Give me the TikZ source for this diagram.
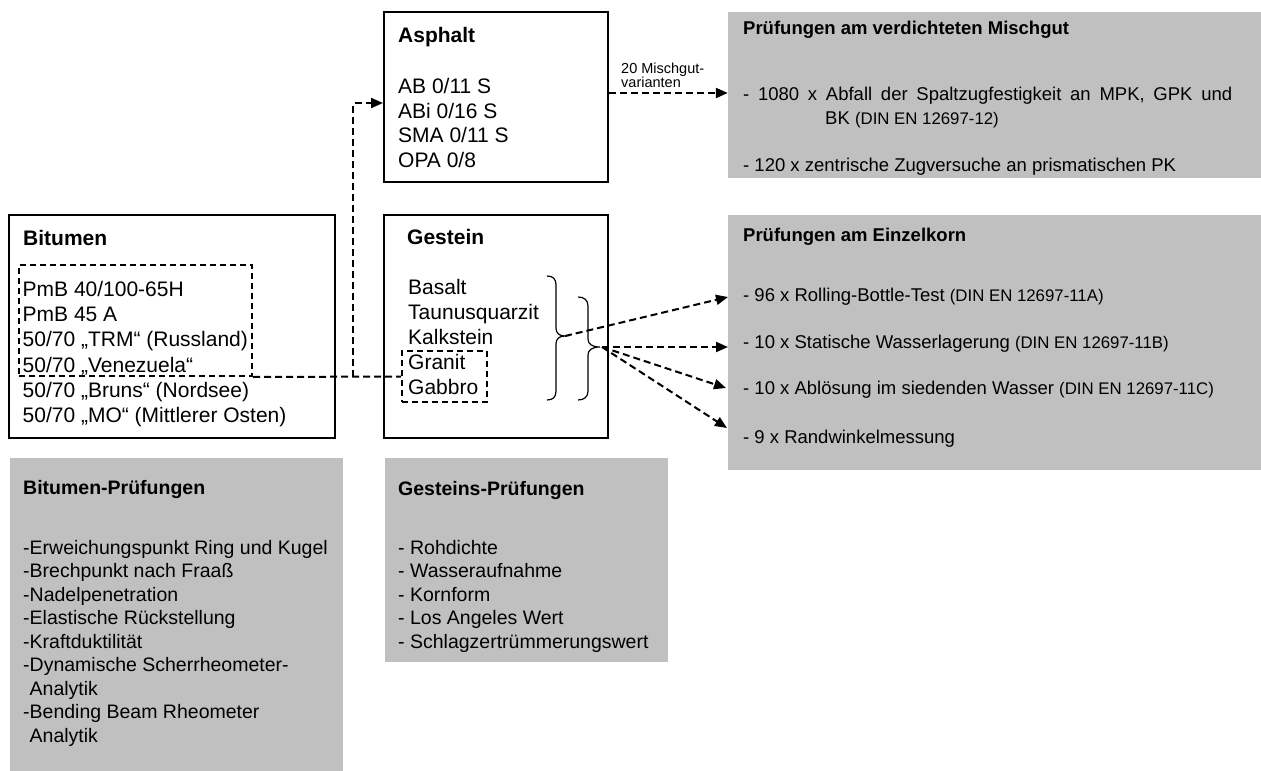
\documentclass[tikz,border=0pt]{standalone}
\usepackage{fontspec}
\setmainfont{Liberation Sans}
\usetikzlibrary{arrows.meta}
\definecolor{boxgray}{RGB}{192,192,192}
\begin{document}
\begin{tikzpicture}[x=1pt,y=-1pt,
  frame/.style={draw=black, line width=2pt, inner sep=0pt},
  selbox/.style={draw=black, line width=2pt, dash pattern=on 6pt off 4pt, inner sep=0pt},
  graybox/.style={fill=boxgray, draw=none, inner sep=0pt},
  big/.style={anchor=base west, inner sep=0pt, font=\fontsize{21}{25}\selectfont},
  bigb/.style={anchor=base west, inner sep=0pt, font=\fontsize{21}{25}\selectfont\bfseries},
  mid/.style={anchor=base west, inner sep=0pt, font=\fontsize{19.5}{23}\selectfont},
  midb/.style={anchor=base west, inner sep=0pt, font=\fontsize{19.5}{23}\selectfont\bfseries},
  sml/.style={anchor=base west, inner sep=0pt, font=\fontsize{18.5}{22}\selectfont},
  smlb/.style={anchor=base west, inner sep=0pt, font=\fontsize{18.5}{22}\selectfont\bfseries},
  tiny/.style={anchor=base west, inner sep=0pt, font=\fontsize{14.5}{12}\selectfont},
  conn/.style={line width=2pt, dash pattern=on 7pt off 4pt},
  arr/.style={conn, -{Triangle[length=12pt,width=10pt]}},
  bracestyle/.style={line width=1.2pt}
]
\newcommand{\din}[1]{{\fontsize{16.8}{19}\selectfont #1}}
\useasboundingbox (0,0) rectangle (1261,771);

% gray boxes
\node[graybox, minimum width=533pt, minimum height=166pt] (mischbox) at (994.5,95) {};
\node[graybox, minimum width=533pt, minimum height=255pt] (einzbox) at (994.5,342.5) {};
\node[graybox, minimum width=333pt, minimum height=313pt] (bitpr) at (176.5,614.5) {};
\node[graybox, minimum width=283pt, minimum height=204pt] (gespr) at (526.5,560) {};

% framed boxes
\node[frame, minimum width=224pt, minimum height=170pt] (asphalt) at (496,97) {};
\node[frame, minimum width=326pt, minimum height=223pt] (bitumen) at (172,326.5) {};
\node[frame, minimum width=224pt, minimum height=223pt] (gestein) at (496,326.5) {};

% Asphalt
\node[bigb] (asT) at (398,42.7) {Asphalt};
\node[big] (as1) at (398,93.5) {AB 0/11 S};
\node[big] (as2) at (398,118) {ABi 0/16 S};
\node[big] (as3) at (398,142.5) {SMA 0/11 S};
\node[big] (as4) at (398,167) {OPA 0/8};

% Bitumen
\node[bigb] (biT) at (23,245.5) {Bitumen};
\node[big] (bi1) at (22.5,296.5) {PmB 40/100-65H};
\node[big] (bi2) at (22.5,321.5) {PmB 45 A};
\node[big] (bi3) at (22.5,346.5) {50/70 „TRM“ (Russland)};
\node[big] (bi4) at (22.5,372) {50/70 „Venezuela“};
\node[big] (bi5) at (22.5,397.5) {50/70 „Bruns“ (Nordsee)};
\node[big] (bi6) at (22.5,422.5) {50/70 „MO“ (Mittlerer Osten)};
\node[selbox, minimum width=233pt, minimum height=111pt] (bitsel) at (135.5,320.5) {};

% Gestein
\node[bigb] (geT) at (407,244.5) {Gestein};
\node[big] (ge1) at (408,294.5) {Basalt};
\node[big] (ge2) at (408,319.5) {Taunusquarzit};
\node[big] (ge3) at (408,344.5) {Kalkstein};
\node[big] (ge4) at (408,369.5) {Granit};
\node[big] (ge5) at (408,394.5) {Gabbro};
\node[selbox, minimum width=85pt, minimum height=51pt] (gransel) at (444.5,376.5) {};

% braces
\draw[bracestyle] (547,276) .. controls (553,276) and (556,279) .. (556,285)
  -- (556,328) .. controls (556,333) and (559,336) .. (565,336)
  .. controls (559,336) and (556,339) .. (556,344)
  -- (556,391) .. controls (556,397) and (553,400) .. (547,400);
\draw[bracestyle] (578,297) .. controls (584,297) and (588,300) .. (588,306)
  -- (588,339) .. controls (588,344) and (592,347) .. (600,347)
  .. controls (592,347) and (588,350) .. (588,355)
  -- (588,391) .. controls (588,397) and (584,400) .. (578,400);
\coordinate (b1) at (565,336);
\coordinate (b2) at (602,347);

% Mischgut box text
\node[smlb] (miT) at (743,34.6) {Prüfungen am verdichteten Mischgut};
\node[sml] (mi1) at (743,100.6) {\makebox[489pt][s]{- 1080 x Abfall der Spaltzugfestigkeit an MPK, GPK und}};
\node[sml] (mi2) at (825,124.6) {BK \din{(DIN EN 12697-12)}};
\node[sml] (mi3) at (743,171) {- 120 x zentrische Zugversuche an prismatischen PK};

% Einzelkorn box text
\node[smlb] (eiT) at (743,241.7) {Prüfungen am Einzelkorn};
\node[sml] (ei1) at (743,301.7) {- 96 x Rolling-Bottle-Test \din{(DIN EN 12697-11A)}};
\node[sml] (ei2) at (743,348.5) {- 10 x Statische Wasserlagerung \din{(DIN EN 12697-11B)}};
\node[sml] (ei3) at (743,394.7) {- 10 x Ablösung im siedenden Wasser \din{(DIN EN 12697-11C)}};
\node[sml] (ei4) at (743,443) {- 9 x Randwinkelmessung};

% Bitumen-Prüfungen
\node[midb] (bpT) at (23,494) {Bitumen-Prüfungen};
\node[mid] (bp1) at (23,554) {-Erweichungspunkt Ring und Kugel};
\node[mid] (bp2) at (23,577.5) {-Brechpunkt nach Fraaß};
\node[mid] (bp3) at (23,601) {-Nadelpenetration};
\node[mid] (bp4) at (23,624.5) {-Elastische Rückstellung};
\node[mid] (bp5) at (23,648) {-Kraftduktilität};
\node[mid] (bp6) at (23,671.5) {-Dynamische Scherrheometer-};
\node[mid] (bp7) at (23,695) {\phantom{-}Analytik};
\node[mid] (bp8) at (23,718.5) {-Bending Beam Rheometer};
\node[mid] (bp9) at (23,742) {\phantom{-}Analytik};

% Gesteins-Prüfungen
\node[midb] (gpT) at (398,495) {Gesteins-Prüfungen};
\node[mid] (gp1) at (398,554) {- Rohdichte};
\node[mid] (gp2) at (398,577.5) {- Wasseraufnahme};
\node[mid] (gp3) at (398,601) {- Kornform};
\node[mid] (gp4) at (398,624.5) {- Los Angeles Wert};
\node[mid] (gp5) at (398,648) {- Schlagzertrümmerungswert};

% label
\node[tiny] (lab1) at (621,73) {20 Mischgut-};
\node[tiny] (lab2) at (621,87) {varianten};

% connectors
\coordinate (j1) at (353,376.5);
\coordinate (j2) at (353,103);
\coordinate (a1) at ([yshift=4pt]asphalt.east);
\draw[conn] (bitsel.south east) -- (gransel.west);
\draw[arr] (j1) -- (j2) -- (asphalt.west |- j2);
\draw[arr] (a1) -- (mischbox.west |- a1);

\coordinate (t1) at (728,297);
\coordinate (t2) at (728,347);
\coordinate (t3) at (726,388);
\coordinate (t4) at (727,428);
\draw[arr] (b1) -- (t1);
\draw[arr] (b2) -- (t2);
\draw[arr] (b2) -- (t3);
\draw[arr] (b2) -- (t4);
\end{tikzpicture}
\end{document}
